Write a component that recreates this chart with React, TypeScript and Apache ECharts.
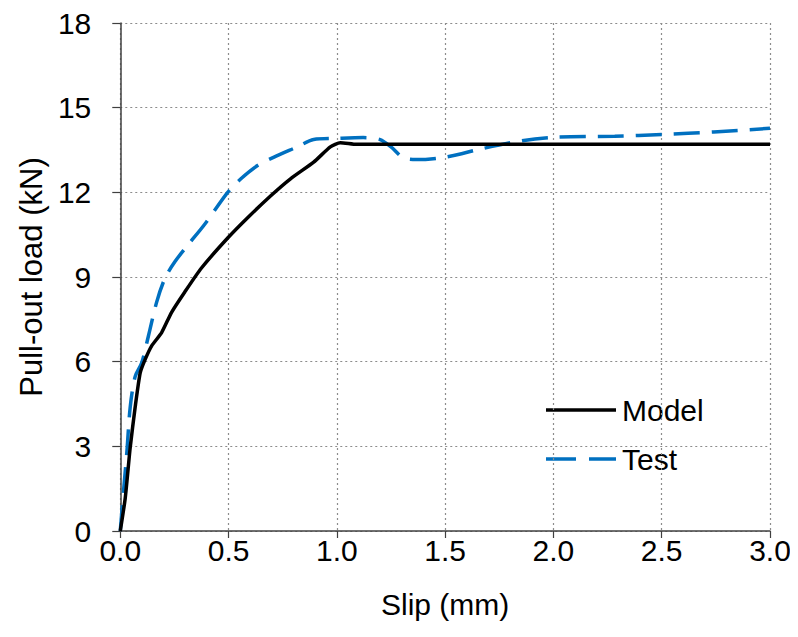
import React, { useEffect, useRef } from "react";
import * as echarts from "echarts";

// Pull-out load vs slip: numerical model and test record
const modelSlip = [0, 0.023, 0.046, 0.069, 0.092, 0.115, 0.145, 0.191, 0.237, 0.298, 0.374, 0.496, 0.588, 0.695, 0.786, 0.893, 0.97, 1.016, 1.092, 1.5, 2.0, 2.5, 3.0];
const modelLoad = [0, 1.17, 2.97, 4.4, 5.6, 6.08, 6.56, 7.03, 7.75, 8.47, 9.31, 10.38, 11.1, 11.88, 12.48, 13.07, 13.61, 13.76, 13.7, 13.7, 13.7, 13.7, 13.7];

const testSlip = [0, 0.015, 0.031, 0.046, 0.069, 0.099, 0.13, 0.168, 0.206, 0.252, 0.313, 0.389, 0.496, 0.557, 0.634, 0.71, 0.817, 0.893, 1.0, 1.122, 1.2, 1.25, 1.306, 1.366, 1.504, 1.672, 1.855, 2.0, 2.283, 2.504, 2.74, 3.0];
const testLoad = [0, 1.41, 2.85, 4.4, 5.48, 5.96, 6.91, 8.11, 8.95, 9.54, 10.14, 10.86, 12.0, 12.48, 12.95, 13.25, 13.61, 13.87, 13.91, 13.94, 13.87, 13.61, 13.23, 13.16, 13.25, 13.55, 13.83, 13.95, 13.99, 14.05, 14.14, 14.27];

const seriesNames = ["Model", "Test"];
const seriesColors = ["#000000", "#0070C0"];

const FONT = "Liberation Sans";
const TEST_DASH = [26, 12];

export default function App() {
  const ref = useRef<HTMLDivElement>(null);

  useEffect(() => {
    if (!ref.current) return;
    const chart = echarts.init(ref.current, null, { renderer: "svg" });
    const pairs = (xs: number[], ys: number[]) => xs.map((x, i) => [x, ys[i]]);
    const grid = "#8c8c8c";

    // Legend keys drawn as plain line samples beside the names
    const legendX = 538;
    const legendY = [402, 451];
    const legendGraphics: any[] = [];
    seriesNames.forEach((name, i) => {
      legendGraphics.push({
        type: "line",
        shape: { x1: legendX, y1: legendY[i], x2: legendX + 70, y2: legendY[i] },
        style: {
          stroke: seriesColors[i],
          lineWidth: 3.5,
          lineDash: i === 1 ? [30, 13] : null,
        },
      });
      legendGraphics.push({
        type: "text",
        x: legendX + 76,
        y: legendY[i],
        style: {
          text: name,
          fill: "#000",
          font: `30px "${FONT}"`,
          verticalAlign: "middle",
          align: "left",
        },
      });
    });

    chart.setOption({
      animation: false,
      textStyle: { fontFamily: FONT },
      grid: { left: 108, right: 28, top: 13, bottom: 106 },
      graphic: legendGraphics,
      xAxis: {
        type: "value",
        min: 0,
        max: 3,
        interval: 0.5,
        name: "Slip (mm)",
        nameLocation: "middle",
        nameGap: 58,
        nameTextStyle: { fontFamily: FONT, fontSize: 30, color: "#000" },
        axisLine: { lineStyle: { color: "#404040", width: 1.5 } },
        axisTick: { show: true, length: 7, lineStyle: { color: "#404040", width: 1.2 } },
        axisLabel: {
          fontFamily: FONT,
          fontSize: 30,
          color: "#000",
          margin: 4,
          formatter: (v: number) => v.toFixed(1),
        },
        splitLine: { show: true, lineStyle: { color: grid, type: [2, 3], width: 1.2 } },
      },
      yAxis: {
        type: "value",
        min: 0,
        max: 18,
        interval: 3,
        name: "Pull-out load (kN)",
        nameLocation: "middle",
        nameGap: 72,
        nameTextStyle: { fontFamily: FONT, fontSize: 31, color: "#000" },
        axisLine: { show: true, lineStyle: { color: "#404040", width: 1.5 } },
        axisTick: { show: true, length: 8, lineStyle: { color: "#404040", width: 1.2 } },
        axisLabel: { fontFamily: FONT, fontSize: 30, color: "#000", margin: 29 },
        splitLine: { show: true, lineStyle: { color: grid, type: [2, 3], width: 1.2 } },
      },
      series: [
        {
          name: seriesNames[0],
          type: "line",
          data: pairs(modelSlip, modelLoad),
          showSymbol: false,
          symbol: "none",
          smooth: 0.2,
          color: seriesColors[0],
          lineStyle: { color: seriesColors[0], width: 3.5 },
          z: 3,
        },
        {
          name: seriesNames[1],
          type: "line",
          data: pairs(testSlip, testLoad),
          showSymbol: false,
          symbol: "none",
          smooth: 0.3,
          color: seriesColors[1],
          lineStyle: { color: seriesColors[1], width: 3.5, type: TEST_DASH },
          z: 2,
        },
      ],
    });
    return () => chart.dispose();
  }, []);

  return <div ref={ref} style={{ width: 790, height: 629 }} />;
}
